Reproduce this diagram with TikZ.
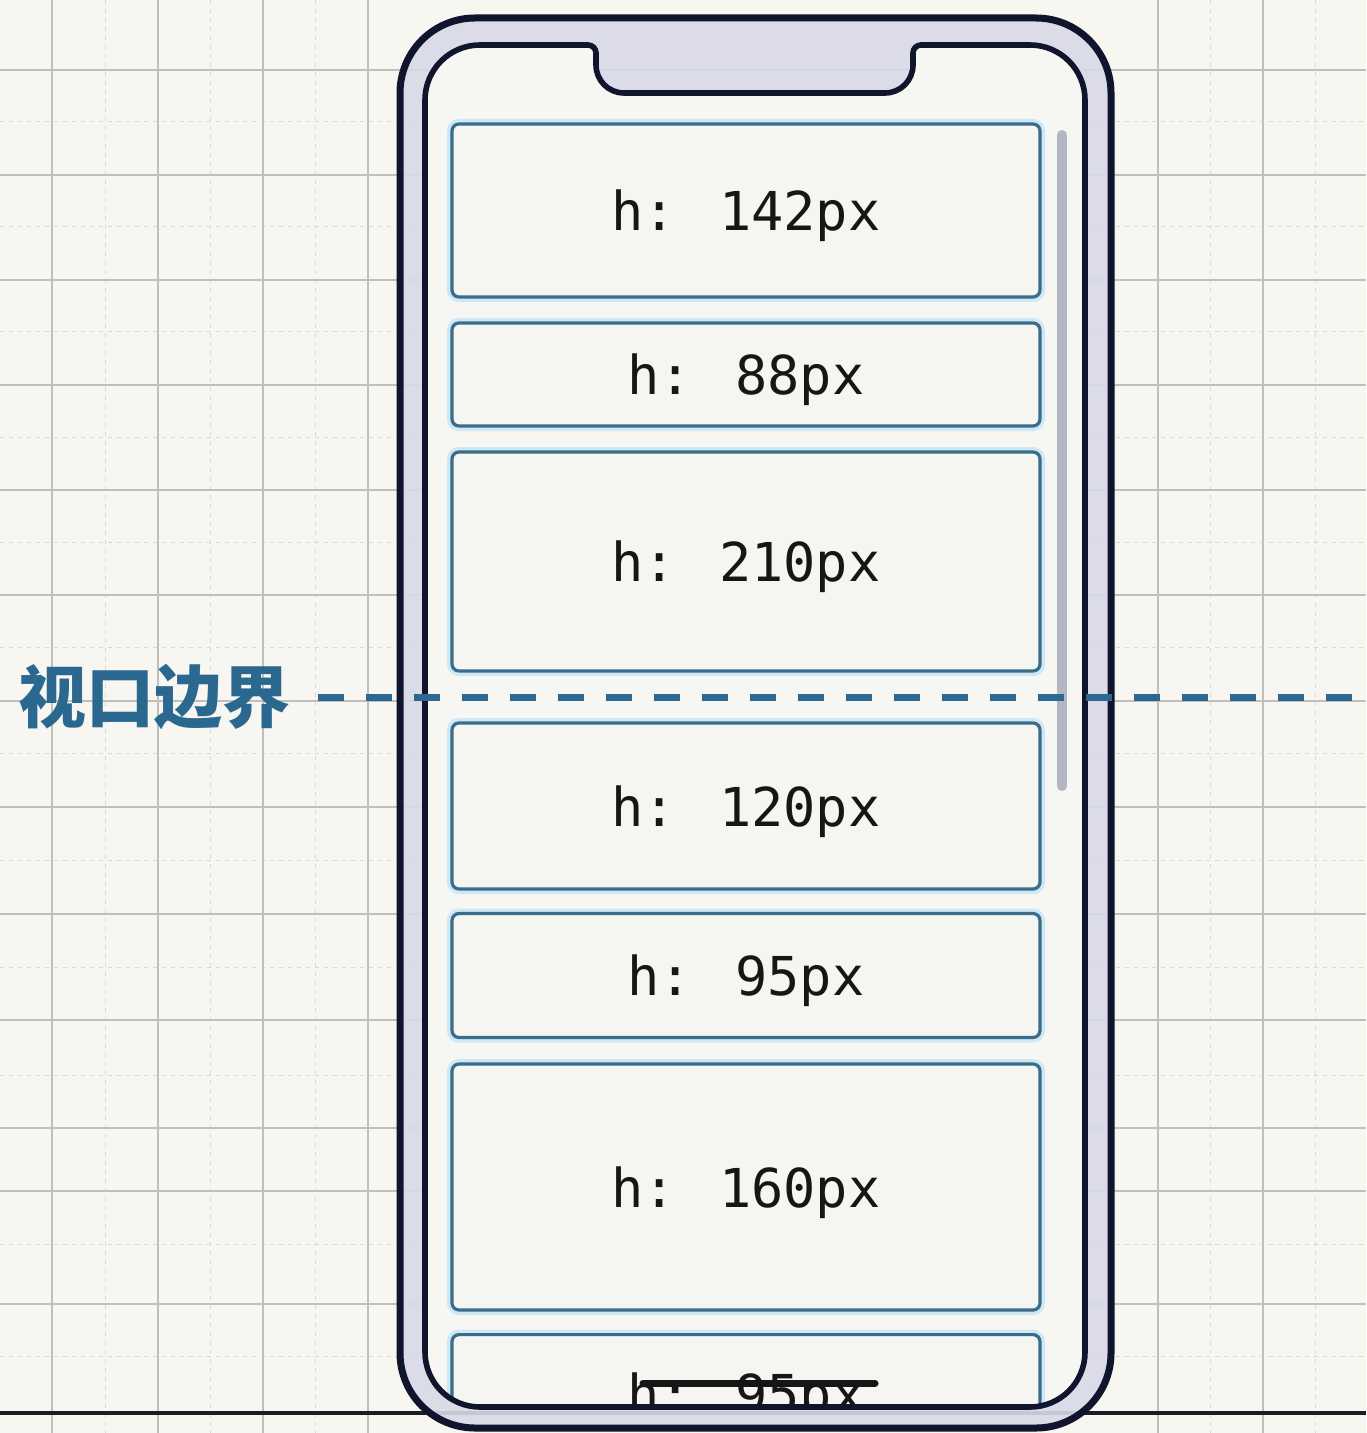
\documentclass[tikz,border=0pt]{standalone}
\usepackage{fontspec}
\newfontfamily\monofont{DejaVu Sans Mono}
\newfontfamily\cjkfont{Noto Sans CJK SC}
\definecolor{bg}{HTML}{F7F6F0}
\definecolor{gridc}{HTML}{BFBFBD}
\definecolor{gridm}{HTML}{D8D8D4}
\definecolor{baseln}{HTML}{1C1C24}
\definecolor{phonec}{HTML}{10142C}
\definecolor{bezel}{HTML}{D8DAE8}
\definecolor{screenc}{HTML}{F6F6F2}
\definecolor{cardfill}{HTML}{F5F5F1}
\definecolor{cardb}{HTML}{3A6D8B}
\definecolor{glowc}{HTML}{CFE8F5}
\definecolor{txt}{HTML}{161616}
\definecolor{dashc}{HTML}{2D6892}
\definecolor{lblc}{HTML}{2A6890}
\definecolor{scrollc}{HTML}{B3B6C3}
\begin{document}
\begin{tikzpicture}[x=0.5pt,y=-0.5pt,
  major/.style={draw=gridc, line width=1pt},
  minor/.style={draw=gridm, line width=0.5pt, dash pattern=on 2pt off 2.5pt},
  cardbox/.style={fill=cardfill, draw=cardb, line width=1.6pt, rounded corners=3.5pt,
     preaction={draw=glowc, line width=5pt, rounded corners=3.5pt},
     minimum width=294pt, inner sep=0pt, text depth=0pt, text=txt,
     font=\monofont\fontsize{26.8}{30}\selectfont},
  vpline/.style={draw=dashc, line width=3.5pt, dash pattern=on 13pt off 11pt},
]
\useasboundingbox (0,0) rectangle (1366,1433);
\fill[bg] (0,0) rectangle (1366,1433);
% grid
\foreach \x in {105,210,315,1210,1315} \draw[minor] (\x,0) -- (\x,1433);
\foreach \y in {122,227,332,437,542,647,753,860,967,1075,1244,1356} \draw[minor] (0,\y) -- (1366,\y);
\foreach \x in {52,158,263,368,1158,1263} \draw[major] (\x,0) -- (\x,1433);
\foreach \y in {70,175,280,385,490,595,701,807,914,1020,1128,1191,1304} \draw[major] (0,\y) -- (1366,\y);
\coordinate (bl) at (0,1413);
\coordinate (br) at (1366,1413);
\draw[draw=baseln, line width=1.7pt] (bl) -- (br);
% phone body
\filldraw[fill=bezel, fill opacity=0.9, draw=phonec, line width=3.5pt, rounded corners=37.5pt] (400,18) rectangle (1111,1428);
\def\screenpath{(425,700) -- (425,100) .. controls (425,69.6) and (449.6,45) .. (480,45) -- (588,45) .. controls (592.4,45) and (596,48.6) .. (596,53) -- (596,65) .. controls (596,80.5) and (608.5,93) .. (624,93) -- (885,93) .. controls (900.5,93) and (913,80.5) .. (913,65) -- (913,53) .. controls (913,48.6) and (916.6,45) .. (921,45) -- (1030,45) .. controls (1060.4,45) and (1085,69.6) .. (1085,100) -- (1085,1352) .. controls (1085,1382.4) and (1060.4,1407) .. (1030,1407) -- (480,1407) .. controls (449.6,1407) and (425,1382.4) .. (425,1352) -- cycle}
\fill[screenc] \screenpath;
% cards
\node[cardbox, minimum height=86.5pt] (c1) at (746,210.5) {h: 142px};
\node[cardbox, minimum height=51.5pt] (c2) at (746,374.5) {h: 88px};
\node[cardbox, minimum height=109.5pt] (c3) at (746,561.5) {h: 210px};
\node[cardbox, minimum height=83pt] (c4) at (746,806) {h: 120px};
\node[cardbox, minimum height=62pt] (c5) at (746,975.5) {h: 95px};
\node[cardbox, minimum height=123pt] (c6) at (746,1187) {h: 160px};
\begin{scope}
  \clip \screenpath;
  \node[cardbox, minimum height=100pt, anchor=north] (c7) at (746,1333) {};
  \node[inner sep=0pt, text depth=0pt, text=txt, font=\monofont\fontsize{26.8}{30}\selectfont] (t7) at (746,1393) {h: 95px};
\end{scope}
\coordinate (s1) at (643,1383);
\coordinate (s2) at (875,1383);
\draw[draw=txt, line width=3.5pt, line cap=round] (s1) -- (s2);
% scrollbar
\coordinate (sb1) at (1062,135);
\coordinate (sb2) at (1062,786);
\draw[draw=scrollc, line width=5pt, line cap=round] (sb1) -- (sb2);
% screen border
\draw[draw=phonec, line width=2.8pt] \screenpath;
% viewport boundary
\node[font=\cjkfont\bfseries\fontsize{34}{40}\selectfont, text=lblc, anchor=west, inner sep=0pt] (vp) at (18,697) {视口边界};
\coordinate (dl) at (318,697);
\coordinate (dr) at (1366,697);
\draw[vpline] (dl) -- (dr);
\end{tikzpicture}
\end{document}
